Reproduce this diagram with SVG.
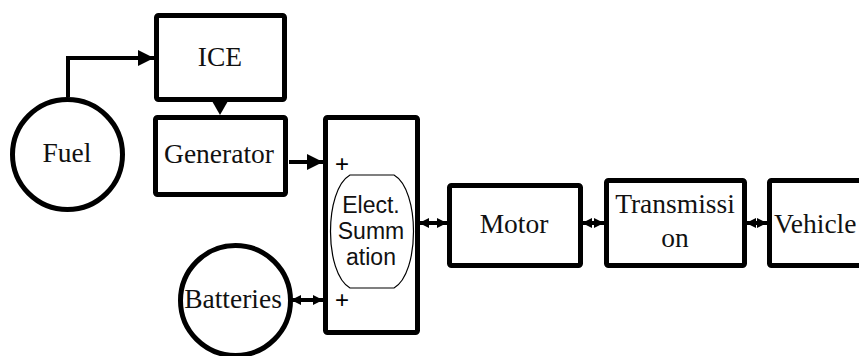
<svg xmlns="http://www.w3.org/2000/svg" width="859" height="356" viewBox="0 0 859 356">
<style>
.box{fill:#fff;stroke:#000;stroke-width:5;}
.circ{fill:#fff;stroke:#000;stroke-width:5;}
.t{font-family:"Liberation Serif","Times New Roman",serif;font-size:27.5px;fill:#111;text-anchor:middle;}
.s{font-family:"Liberation Sans",Arial,sans-serif;font-size:23px;fill:#111;text-anchor:middle;}
.p{font-family:"Liberation Sans",Arial,sans-serif;font-size:24px;fill:#000;text-anchor:middle;}
.c{fill:none;stroke:#000;stroke-width:4;}
</style>
<defs>
<marker id="ah" viewBox="0 0 10 10" refX="10" refY="5" markerWidth="4" markerHeight="4" orient="auto" markerUnits="strokeWidth">
<path d="M0,0 L10,5 L0,10 Z" fill="#000"/>
</marker>
<marker id="sh" viewBox="0 0 10 10" refX="10" refY="5" markerWidth="2.6" markerHeight="3.2" orient="auto-start-reverse" markerUnits="strokeWidth">
<path d="M0,0 L10,5 L0,10 Z" fill="#000"/>
</marker>
</defs>
<g id="connectors">
<path class="c" d="M68,97 V58 H154" marker-end="url(#ah)"/>
<path d="M212,101 L228,101 L220,115 Z" fill="#000"/>
<path class="c" d="M289,162 H323" marker-end="url(#ah)"/>
<path class="c" d="M291,300 H323" marker-start="url(#sh)" marker-end="url(#sh)"/>
<path class="c" d="M419,223 H447" marker-start="url(#sh)" marker-end="url(#sh)"/>
<path class="c" d="M582,223 H604" marker-start="url(#sh)" marker-end="url(#sh)"/>
<path class="c" d="M746,223 H767" marker-start="url(#sh)" marker-end="url(#sh)"/>
</g>
<g id="fuel">
<circle class="circ" cx="67.5" cy="154.5" r="55"/>
<text class="t" x="67" y="162">Fuel</text>
</g>
<g id="ice">
<rect class="box" x="156.5" y="15.5" width="128" height="84" rx="2"/>
<text class="t" x="220" y="66">ICE</text>
</g>
<g id="generator">
<rect class="box" x="155.5" y="117.5" width="130" height="77" rx="2"/>
<text class="t" x="219" y="163">Generator</text>
</g>
<g id="summation">
<rect class="box" x="325.5" y="117.5" width="92" height="215" rx="2"/>
<path d="M350,175 H394 C420,190 420,273 394,288 H350 C324,273 324,190 350,175 Z" fill="none" stroke="#000" stroke-width="1.2"/>
<text class="s" x="371" y="213">Elect.</text>
<text class="s" x="371" y="239">Summ</text>
<text class="s" x="371" y="265">ation</text>
<text class="p" x="342" y="172">+</text>
<text class="p" x="342" y="308">+</text>
</g>
<g id="batteries">
<circle class="circ" cx="235.5" cy="300.5" r="55"/>
<text class="t" x="233" y="308">Batteries</text>
</g>
<g id="motor">
<rect class="box" x="449.5" y="185.5" width="131" height="80" rx="2"/>
<text class="t" x="514" y="233">Motor</text>
</g>
<g id="transmission">
<rect class="box" x="606.5" y="180.5" width="138" height="85" rx="2"/>
<text class="t" x="675" y="213">Transmissi</text>
<text class="t" x="675" y="247">on</text>
</g>
<g id="vehicle">
<rect class="box" x="769.5" y="180.5" width="120" height="85" rx="2"/>
<text class="t" x="774" y="233" style="text-anchor:start">Vehicle</text>
</g>
</svg>
